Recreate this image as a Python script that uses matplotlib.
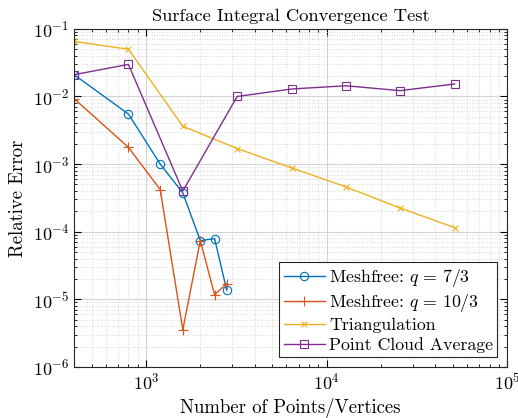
import matplotlib
matplotlib.use("Agg")
import matplotlib.pyplot as plt
from matplotlib.ticker import LogLocator

plt.rcParams["font.family"] = "serif"
plt.rcParams["font.serif"] = ["cmr10", "DejaVu Serif"]
plt.rcParams["mathtext.fontset"] = "cm"
plt.rcParams["axes.formatter.use_mathtext"] = True
plt.rcParams["axes.unicode_minus"] = False

# data
n_mf = [400, 800, 1200, 1600, 2000, 2400, 2800]
err_q73 = [0.021, 0.0055, 1.0e-3, 3.75e-4, 7.4e-5, 7.9e-5, 1.37e-5]
err_q103 = [9.3e-3, 1.77e-3, 4.2e-4, 3.56e-6, 7.4e-5, 1.17e-5, 1.71e-5]

n_tri = [400, 800, 1600, 3200, 6400, 12800, 25600, 51200]
err_tri = [0.065, 0.050, 3.63e-3, 1.7e-3, 8.8e-4, 4.6e-4, 2.24e-4, 1.15e-4]
err_pc = [0.021, 0.0298, 4.0e-4, 0.0100, 0.0129, 0.0144, 0.0122, 0.0153]

labels = ["Meshfree: $q\\,=\\,7/3$", "Meshfree: $q\\,=\\,10/3$",
          "Triangulation", "Point Cloud Average"]
colors = ["#0072BD", "#D95319", "#EDB120", "#7E2F8E"]

fig = plt.figure(figsize=(5.18, 4.18), dpi=100)
ax = fig.add_axes([0.143, 0.122, 0.836, 0.809])

ax.loglog(n_mf, err_q73, "-o", color=colors[0], lw=1.0, ms=6, mfc="none", mew=0.8, label=labels[0])
ax.loglog(n_mf, err_q103, "-+", color=colors[1], lw=1.0, ms=7, mew=0.8, label=labels[1])
ax.loglog(n_tri, err_tri, "-x", color=colors[2], lw=1.0, ms=5, mew=0.8, label=labels[2])
ax.loglog(n_tri, err_pc, "-s", color=colors[3], lw=1.0, ms=6, mfc="none", mew=0.8, label=labels[3])

ax.set_xlim(400, 1e5)
ax.set_ylim(1e-6, 1e-1)
ax.xaxis.set_major_locator(LogLocator(base=10, numticks=10))
ax.yaxis.set_major_locator(LogLocator(base=10, numticks=10))
ax.xaxis.set_minor_locator(LogLocator(base=10, subs=range(2, 10), numticks=20))
ax.yaxis.set_minor_locator(LogLocator(base=10, subs=range(2, 10), numticks=20))

ax.grid(True, which="major", color="#d4d4d4", lw=0.8)
ax.grid(True, which="minor", color="#cccccc", lw=0.6, ls=(0, (1, 2)))
ax.set_axisbelow(True)

ax.tick_params(which="both", direction="in", top=True, right=True, labelsize=13)
ax.tick_params(which="major", length=5)
ax.tick_params(which="minor", length=2.5)
for s in ax.spines.values():
    s.set_linewidth(0.8)
    s.set_color("#262626")

ax.set_title("Surface Integral Convergence Test", fontsize=13.3)
ax.set_xlabel("Number of Points/Vertices", fontsize=13.5)
ax.set_ylabel("Relative Error", fontsize=13.5)

leg = ax.legend(loc="lower right", fontsize=12.8, fancybox=False, framealpha=1,
                edgecolor="#262626", handlelength=2.35, handletextpad=0.2,
                borderpad=0.25, labelspacing=0.2, borderaxespad=0.55)
leg.get_frame().set_linewidth(0.8)

fig.savefig("out.png", dpi=100)
